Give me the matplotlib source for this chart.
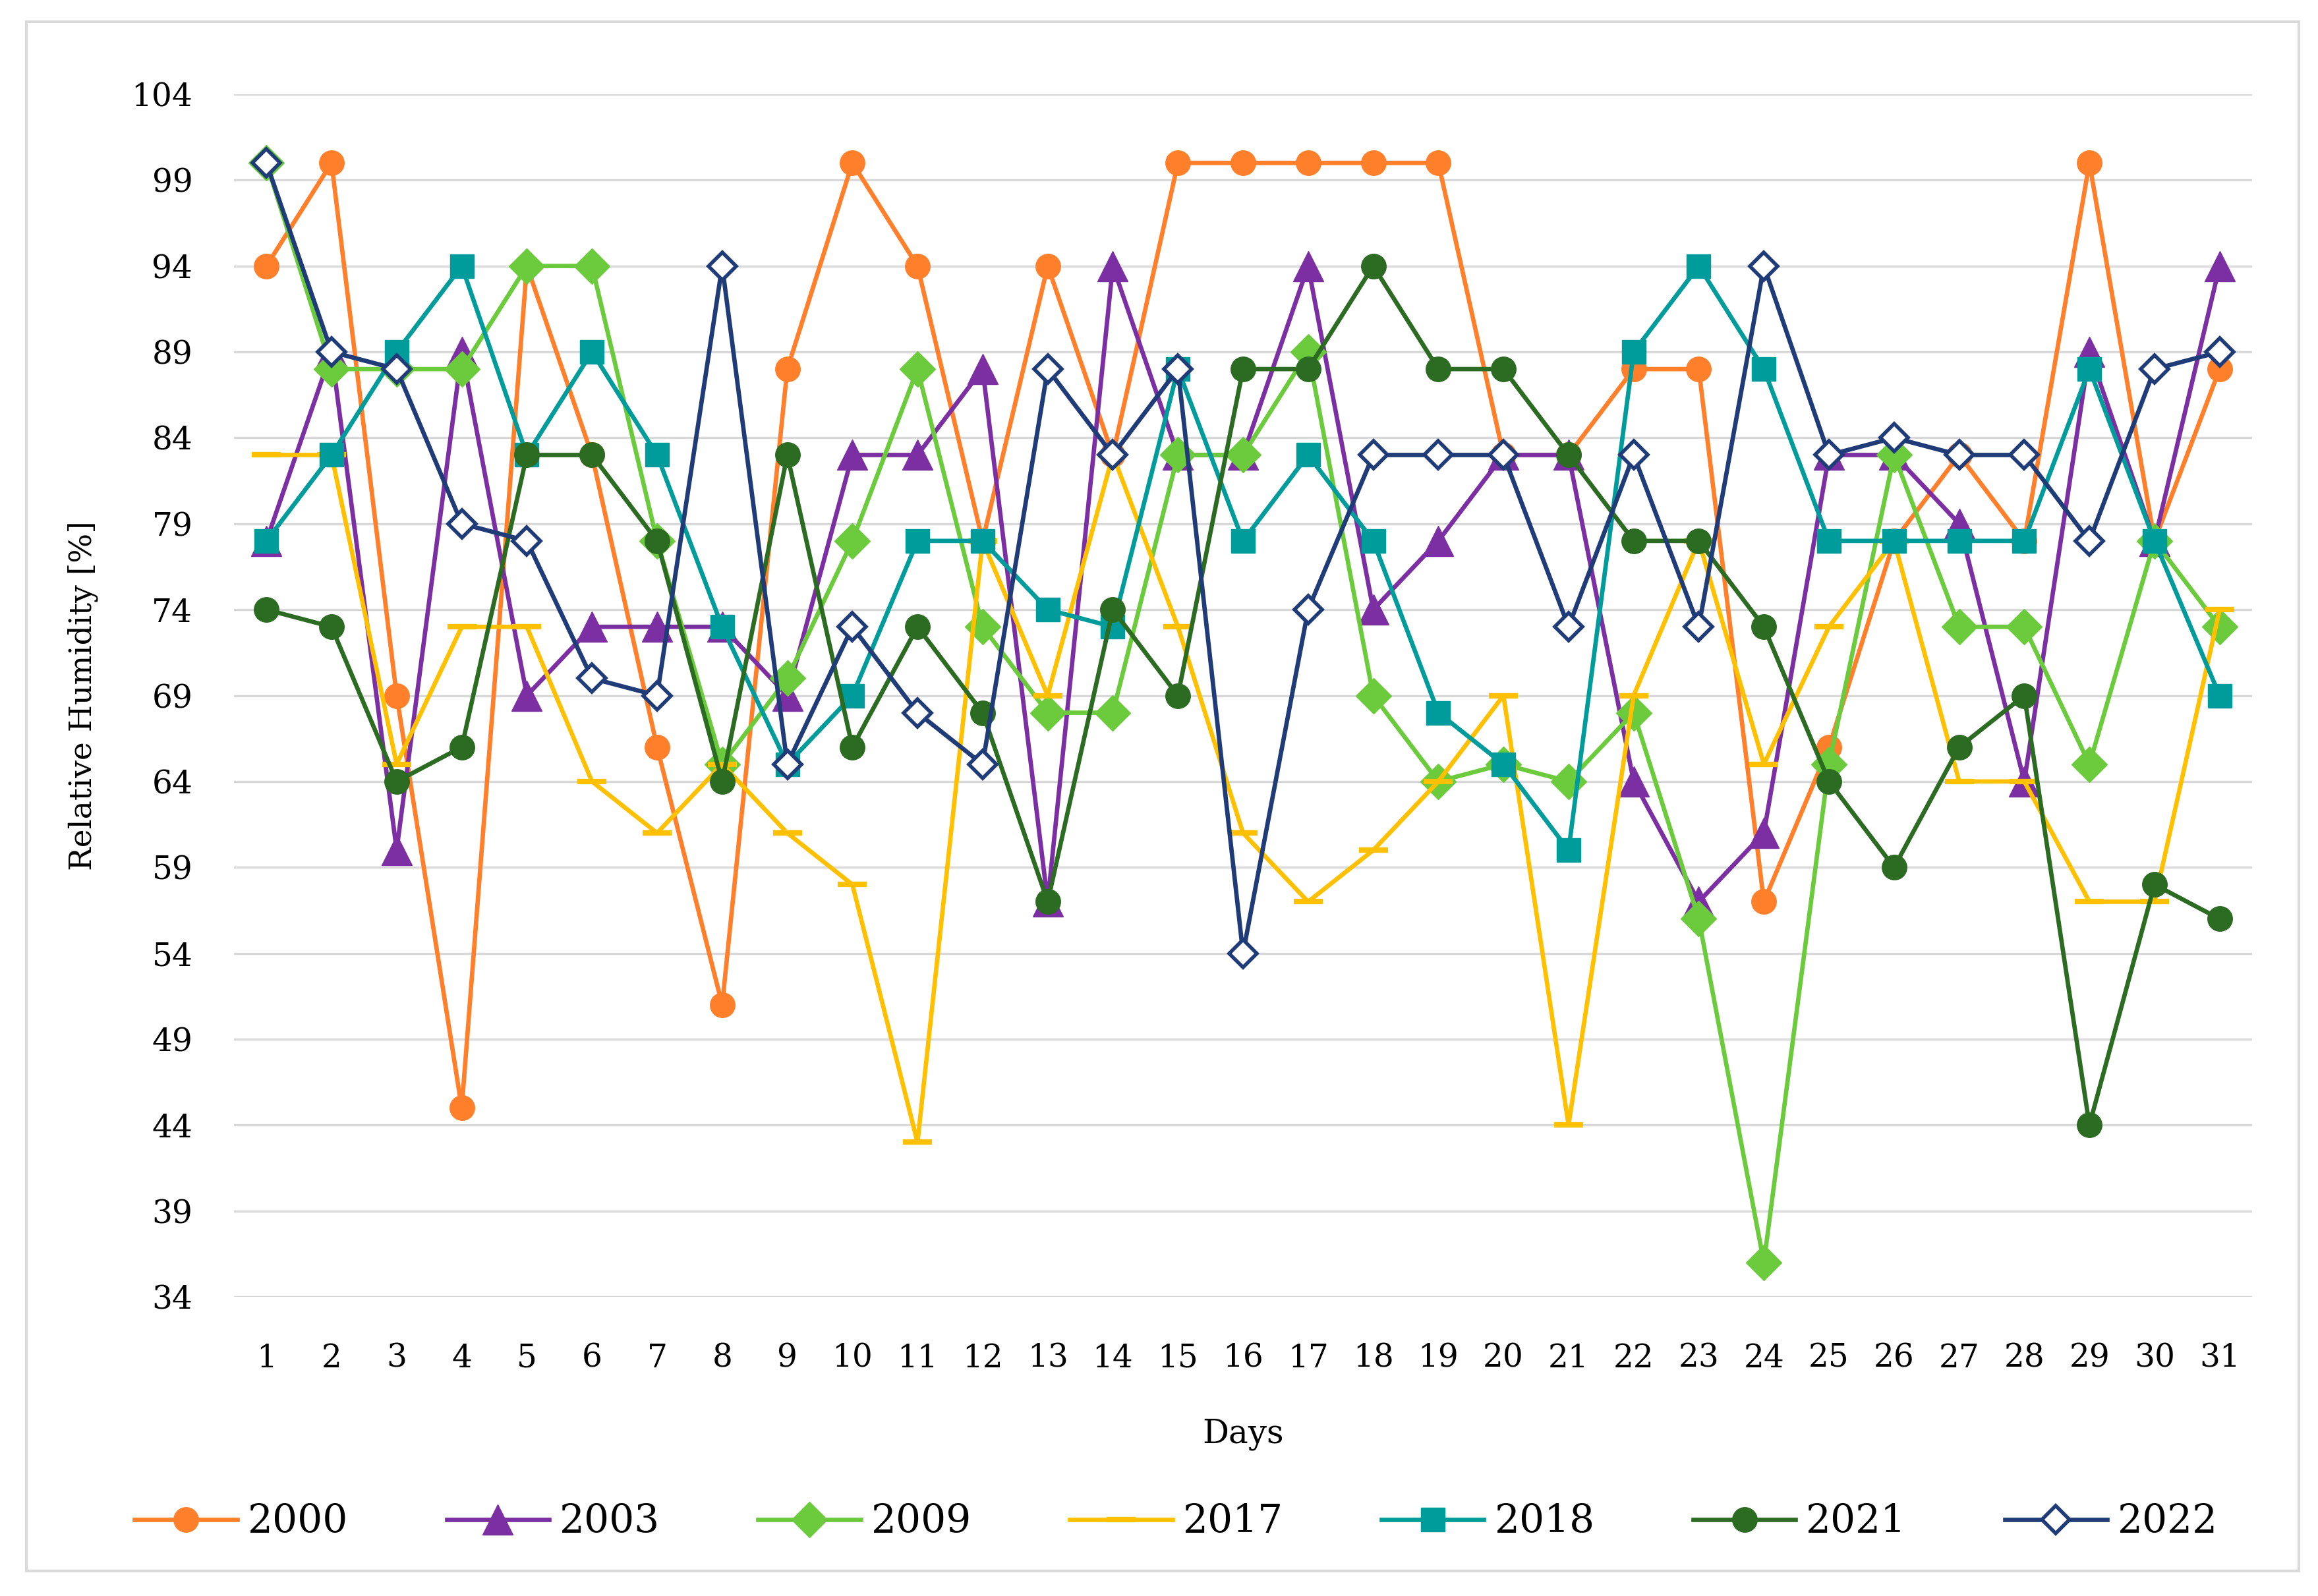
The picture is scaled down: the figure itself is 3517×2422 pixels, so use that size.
import matplotlib
matplotlib.use("Agg")
import matplotlib.pyplot as plt
from matplotlib.patches import Rectangle

# --- Data (relative humidity per day) ---
days = list(range(1, 32))
years = ['2000', '2003', '2009', '2017', '2018', '2021', '2022']

rh_2000 = [94, 100, 69, 45, 94, 83, 66, 51, 88, 100, 94, 78, 94, 83, 100, 100,
           100, 100, 100, 83, 83, 88, 88, 57, 66, 78, 83, 78, 100, 78, 88]
rh_2003 = [78, 89, 60, 89, 69, 73, 73, 73, 69, 83, 83, 88, 57, 94, 83, 83,
           94, 74, 78, 83, 83, 64, 57, 61, 83, 83, 79, 64, 89, 78, 94]
rh_2009 = [100, 88, 88, 88, 94, 94, 78, 65, 70, 78, 88, 73, 68, 68, 83, 83,
           89, 69, 64, 65, 64, 68, 56, 36, 65, 83, 73, 73, 65, 78, 73]
rh_2017 = [83, 83, 65, 73, 73, 64, 61, 65, 61, 58, 43, 78, 69, 83, 73, 61,
           57, 60, 64, 69, 44, 69, 78, 65, 73, 78, 64, 64, 57, 57, 74]
rh_2018 = [78, 83, 89, 94, 83, 89, 83, 73, 65, 69, 78, 78, 74, 73, 88, 78,
           83, 78, 68, 65, 60, 89, 94, 88, 78, 78, 78, 78, 88, 78, 69]
rh_2021 = [74, 73, 64, 66, 83, 83, 78, 64, 83, 66, 73, 68, 57, 74, 69, 88,
           88, 94, 88, 88, 83, 78, 78, 73, 64, 59, 66, 69, 44, 58, 56]
rh_2022 = [100, 89, 88, 79, 78, 70, 69, 94, 65, 73, 68, 65, 88, 83, 88, 54,
           74, 83, 83, 83, 73, 83, 73, 94, 83, 84, 83, 83, 78, 88, 89]

y_ticks = list(range(34, 105, 5))

series = [rh_2000, rh_2003, rh_2009, rh_2017, rh_2018, rh_2021, rh_2022]
colors = ['#FF7F2A', '#7B2FA3', '#6CCB3C', '#FFC000', '#009B9B', '#2C6B22', '#1F3B78']
markers = ['o', '^', 'D', '_', 's', 'o', 'D']
msizes = [27, 33, 27, 32, 26, 27, 21]

serif = ['DejaVu Serif']

fig = plt.figure(figsize=(35.17, 24.22), dpi=100)
ax = fig.add_axes([0.1009, 0.1874, 0.8707, 0.7536])

for i, (vals, col, mk, ms, yr) in enumerate(zip(series, colors, markers, msizes, years)):
    if yr == '2022':
        ax.plot(days, vals, color=col, lw=4.8, marker=mk, ms=ms,
                mfc='white', mec=col, mew=4, label=yr, zorder=3 + i)
    elif yr == '2017':
        ax.plot(days, vals, color=col, lw=4.8, marker=mk, ms=ms,
                mec=col, mew=6, label=yr, zorder=3 + i)
    else:
        ax.plot(days, vals, color=col, lw=4.8, marker=mk, ms=ms,
                mfc=col, mec=col, label=yr, zorder=3 + i)

ax.set_xlim(0.5, 31.5)
ax.set_ylim(34, 104)
ax.set_yticks(y_ticks)
ax.set_xticks(days)
ax.grid(axis='y', color='#D9D9D9', lw=2.5, zorder=0)
ax.set_axisbelow(True)
for s in ax.spines.values():
    s.set_visible(False)
ax.tick_params(length=0, labelsize=35)
ax.tick_params(axis='x', pad=50)
ax.tick_params(axis='y', pad=45)
for lab in ax.get_xticklabels() + ax.get_yticklabels():
    lab.set_family(serif)

ax.set_xlabel('Days', fontsize=36, family=serif, labelpad=48)
ax.set_ylabel('Relative Humidity [%]', fontsize=34, family=serif, labelpad=36)

leg = ax.legend(loc='center', bbox_to_anchor=(0.467, -0.187), ncol=7, frameon=False,
                prop={'family': serif, 'size': 43}, handlelength=2.6,
                handletextpad=0.27, columnspacing=2.5)

fig.patches.append(Rectangle((40 / 3517, 1 - 2384 / 2422), 3448 / 3517, 2351 / 2422,
                             transform=fig.transFigure, fill=False,
                             ec='#D9D9D9', lw=3))

fig.savefig('out.png', dpi=100, facecolor='white')
